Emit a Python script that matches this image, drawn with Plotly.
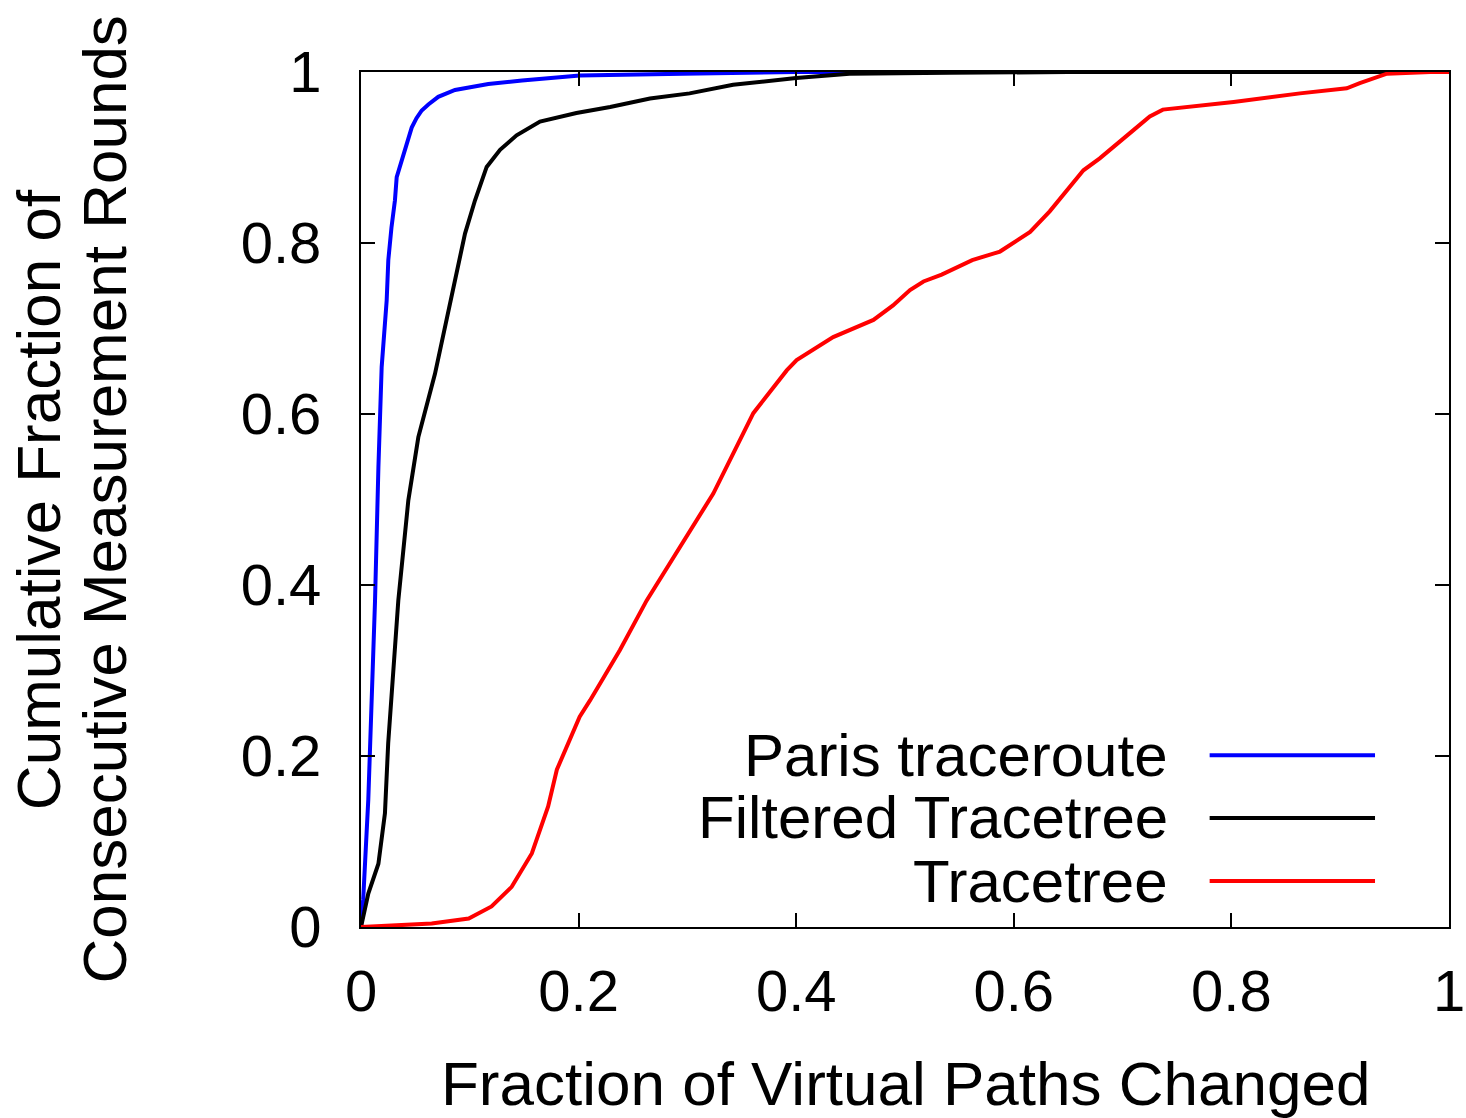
import plotly.graph_objects as go

# ---- data ----
paris_x = [0, 0.002, 0.0067, 0.0098, 0.0129, 0.016, 0.019, 0.0236, 0.0251, 0.028, 0.0312, 0.0328, 0.0374,
           0.0435, 0.0466, 0.0510, 0.0558, 0.0619, 0.071, 0.0864, 0.102, 0.117, 0.148, 0.178, 0.201,
           0.296, 0.4, 1.0]
paris_y = [0, 0.032, 0.149, 0.266, 0.382, 0.538, 0.655, 0.733, 0.780, 0.818, 0.850, 0.877, 0.897,
           0.925, 0.935, 0.946, 0.955, 0.962, 0.971, 0.979, 0.983, 0.986, 0.990, 0.994, 0.996,
           0.998, 1.0, 1.0]

filtered_x = [0, 0.0067, 0.016, 0.022, 0.025, 0.030, 0.0343, 0.0435, 0.048, 0.0527, 0.068, 0.0833,
              0.0956, 0.1048, 0.1155, 0.1278, 0.143, 0.1645, 0.198, 0.229, 0.2656, 0.302, 0.342,
              0.400, 0.449, 0.541, 0.65, 1.0]
filtered_y = [0, 0.039, 0.074, 0.133, 0.215, 0.297, 0.382, 0.499, 0.538, 0.573, 0.647, 0.737,
              0.811, 0.850, 0.889, 0.909, 0.926, 0.942, 0.952, 0.959, 0.969, 0.975, 0.985,
              0.993, 0.998, 0.999, 1.0, 1.0]

tracetree_x = [0, 0.065, 0.099, 0.120, 0.1385, 0.157, 0.172, 0.180, 0.201, 0.2105, 0.238, 0.2626,
               0.3238, 0.3606, 0.3913, 0.4004, 0.434, 0.471, 0.489, 0.5046, 0.517, 0.5337, 0.5618,
               0.5873, 0.615, 0.633, 0.664, 0.679, 0.710, 0.725, 0.737, 0.802, 0.863, 0.906, 0.918,
               0.943, 0.983, 1.0]
tracetree_y = [0, 0.004, 0.010, 0.024, 0.047, 0.086, 0.141, 0.184, 0.246, 0.265, 0.324, 0.382,
               0.507, 0.601, 0.651, 0.663, 0.690, 0.710, 0.727, 0.745, 0.755, 0.763, 0.780,
               0.790, 0.813, 0.837, 0.885, 0.899, 0.932, 0.948, 0.956, 0.965, 0.975, 0.981, 0.987,
               0.998, 1.0, 1.0]

tick_vals = [0, 0.2, 0.4, 0.6, 0.8, 1]
tick_text = ["0", "0.2", "0.4", "0.6", "0.8", "1"]

series_names = ["Paris traceroute", "Filtered Tracetree", "Tracetree"]
series_colors = ["#0000ff", "#000000", "#ff0000"]

x_title = "Fraction of Virtual Paths Changed"
y_title_lines = ["Cumulative Fraction of", "Consecutive Measurement Rounds"]

FONT = "Liberation Sans, Arial, Helvetica, sans-serif"

fig = go.Figure()
for xs, ys, name, col in [(paris_x, paris_y, series_names[0], series_colors[0]),
                          (filtered_x, filtered_y, series_names[1], series_colors[1]),
                          (tracetree_x, tracetree_y, series_names[2], series_colors[2])]:
    fig.add_trace(go.Scatter(x=xs, y=ys, mode="lines", name=name,
                             line=dict(color=col, width=4), showlegend=False))

axis_common = dict(
    range=[0, 1], tickvals=tick_vals, ticktext=tick_text,
    ticks="inside", ticklen=14, tickwidth=2, tickcolor="black",
    showline=True, linewidth=2, linecolor="black", mirror="ticks",
    showgrid=False, zeroline=False, automargin=False,
    tickfont=dict(family=FONT, size=58, color="black"),
)

fig.update_layout(
    width=1466, height=1118,
    margin=dict(l=361, r=17, t=72, b=191, autoexpand=False),
    paper_bgcolor="white", plot_bgcolor="white",
    font=dict(family=FONT, color="black"),
    xaxis=dict(**axis_common, ticklabelstandoff=12),
    yaxis=dict(**axis_common, ticklabelstandoff=26),
)

# axis titles
fig.add_annotation(xref="paper", yref="paper", x=0.5, y=-0.1836, text=x_title,
                   showarrow=False, xanchor="center", yanchor="middle",
                   font=dict(family=FONT, size=62, color="black"))
for xp, line in zip([-0.2963, -0.2362], y_title_lines):
    fig.add_annotation(xref="paper", yref="paper", x=xp, y=0.5, text=line, textangle=-90,
                       showarrow=False, xanchor="center", yanchor="middle",
                       font=dict(family=FONT, size=62, color="black"))

# manual legend: label right-aligned, line sample to its right
leg_y = [0.201, 0.1275, 0.0538]
for name, col, yy in zip(series_names, series_colors, leg_y):
    fig.add_annotation(xref="paper", yref="paper", x=0.7436, y=yy, text=name,
                       showarrow=False, xanchor="right", yanchor="middle",
                       font=dict(family=FONT, size=60, color="black"))
    fig.add_shape(type="line", xref="paper", yref="paper", x0=0.780, x1=0.932, y0=yy, y1=yy,
                  line=dict(color=col, width=4))

# remove the default 8px page margin so the figure sits at the window's top-left corner
fig.write_html("out.html", config={"displayModeBar": False},
               post_script="document.body.style.margin='0';")
